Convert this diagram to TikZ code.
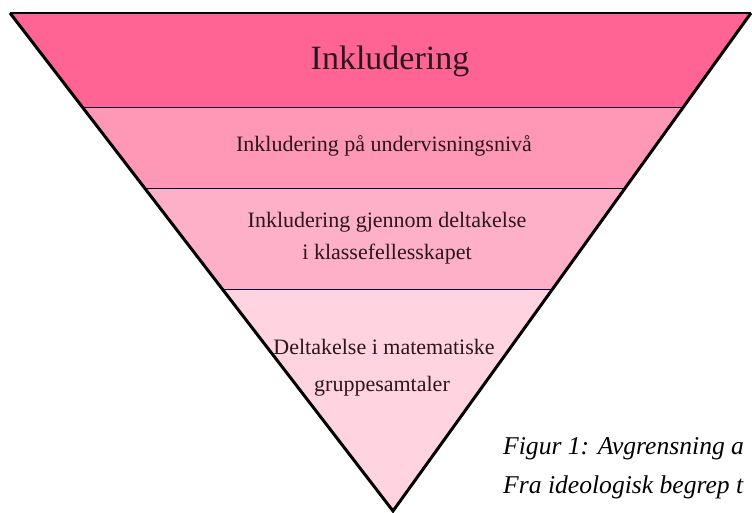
\documentclass[tikz,border=0pt]{standalone}
\usepackage{fontspec}
\setmainfont{Liberation Serif}
\usepackage{tikz}

\definecolor{bandone}{HTML}{FF6494}
\definecolor{bandtwo}{HTML}{FF97B6}
\definecolor{bandthree}{HTML}{FFB0C9}
\definecolor{bandfour}{HTML}{FFD3DF}
\definecolor{inktxt}{HTML}{2A161E}

\tikzset{
  edge/.style={line width=3pt, line join=miter, black},
  topedge/.style={line width=1.4pt, black},
  sep/.style={line width=1pt, black!80!blue},
  lbl/.style={anchor=base, inner sep=0pt, text=inktxt, font=\fontsize{22}{26}\selectfont},
  caption/.style={anchor=base west, inner sep=0pt, font=\fontsize{25.6}{30}\selectfont\itshape}
}

\begin{document}
\begin{tikzpicture}[x=1pt,y=1pt]
          \useasboundingbox (0,0) rectangle (752,513);
          \coordinate (tl) at (10,500);
          \coordinate (tr) at (751,500);
          \coordinate (ap) at (393,2);

          \begin{scope}
            \clip (tl) -- (tr) -- (ap) -- cycle;
            \fill[bandone] (0,405) rectangle (752,513);
            \fill[bandtwo] (0,324) rectangle (752,405);
            \fill[bandthree] (0,223) rectangle (752,324);
            \fill[bandfour] (0,0) rectangle (752,223);

            \foreach \y in {405,324,223}{
              \draw[sep] (0,\y) -- (752,\y);
            }
          \end{scope}

          \draw[edge] (tl) -- (ap) -- (tr);
          \draw[topedge] (tl) -- (tr);

          \node[lbl, font=\fontsize{34}{40}\selectfont] (incl) at (390,443) {Inkludering};
          \node[lbl] (niva) at (384,361) {Inkludering på undervisningsnivå};
          \node[lbl] (delta) at (387,285) {Inkludering gjennom deltakelse};
          \node[lbl] (klasse) at (387,253) {i klassefellesskapet};
          \node[lbl] (mat) at (384,158) {Deltakelse i matematiske};
          \node[lbl] (gruppe) at (382,121) {gruppesamtaler};

          \node[caption] (figA) at (503,58) {Figur 1: Avgrensning a};
          \node[caption] (figB) at (503,19) {Fra ideologisk begrep t};
        \end{tikzpicture}
\end{document}
